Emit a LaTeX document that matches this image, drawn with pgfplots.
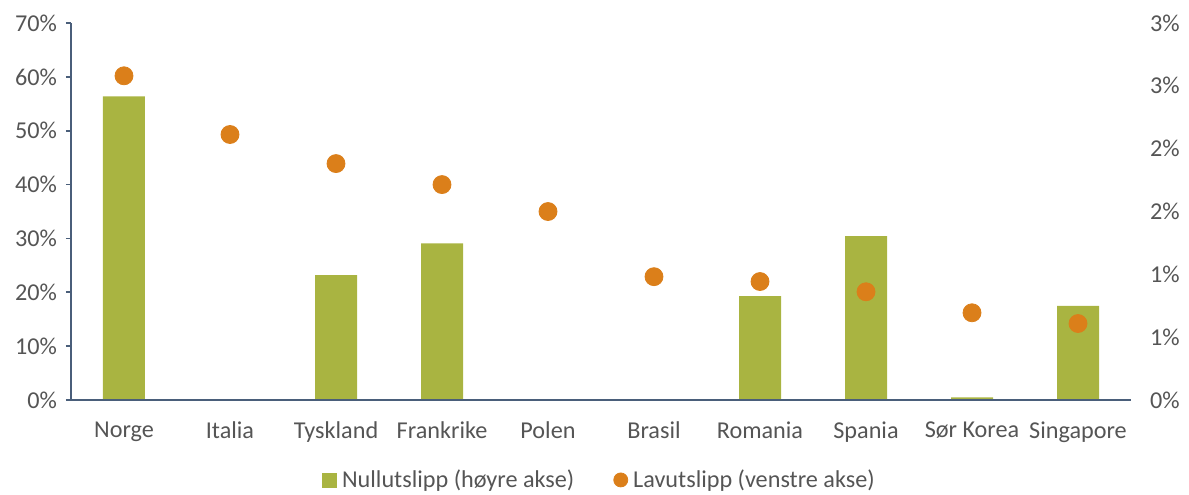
\documentclass[border=0pt]{standalone}
\usepackage{pgfplots}
\pgfplotsset{compat=1.18}
\usepackage{fontspec}
\setmainfont{Carlito}
\definecolor{barg}{HTML}{A9B441}
\definecolor{dotor}{HTML}{DB7F1A}
\definecolor{txt}{HTML}{555555}
\definecolor{axl}{HTML}{4A5E7A}
\newcommand{\fs}{\fontsize{12.1}{14.5}\selectfont}
\begin{document}
\begin{tikzpicture}
\path[use as bounding box] (-35.5pt,-47pt) rectangle (559pt,200pt);
\begin{axis}[
  at={(0,0)}, anchor=south west, scale only axis,
  width=530pt, height=188.5pt,
  xmin=-0.5, xmax=9.5, ymin=0, ymax=3,
  axis x line=none,
  axis y line*=right,
  y axis line style={draw=none},
  ytick={0,0.5,1,1.5,2,2.5,3},
  yticklabels={0\%,1\%,1\%,2\%,2\%,3\%,3\%},
  ytick style={draw=none},
  yticklabel style={anchor=west, xshift=6pt, font=\fs, text=txt},
]
\addplot[ybar, bar width=21pt, fill=barg, draw=none] coordinates {
 (0,2.416) (1,0) (2,0.994) (3,1.247) (4,0) (5,0) (6,0.827) (7,1.305) (8,0.021) (9,0.750)
};
\end{axis}
\begin{axis}[
  at={(0,0)}, anchor=south west, scale only axis,
  width=530pt, height=188.5pt,
  xmin=-0.5, xmax=9.5, ymin=0, ymax=70,
  axis y line*=left, axis x line*=bottom,
  axis line style={draw=axl, line width=0.8pt},
  xtick={0,...,9},
  xticklabels={Norge,Italia,Tyskland,Frankrike,Polen,Brasil,Romania,Spania,Sør Korea,Singapore},
  xtick style={draw=none},
  xticklabel style={font=\fs, text=txt, yshift=-5pt},
  ytick={0,10,...,70},
  yticklabels={0\%,10\%,20\%,30\%,40\%,50\%,60\%,70\%},
  ytick style={draw=axl, line width=0.8pt},
  tick align=outside, major tick length=2.5pt,
  yticklabel style={font=\fs, text=txt, xshift=-1pt},
  legend style={at={(0.5,-0.212)}, anchor=center, draw=none, fill=none,
    font=\fs, text=txt, column sep=0pt,
    nodes={inner sep=2.5pt},
    /tikz/every even column/.append style={column sep=17pt}},
  legend columns=2,
]
\addlegendimage{area legend, legend image code/.code={\fill[barg] (0pt,-3.5pt) rectangle (7pt,3.5pt);}}
\addlegendentry{Nullutslipp (høyre akse)}
\addplot[only marks, mark=*, mark size=4.5pt, color=dotor, mark options={draw=dotor, fill=dotor},
  legend image code/.code={\fill[dotor] (3.5pt,0pt) circle (3.5pt);}] coordinates {
 (0,60.2) (1,49.3) (2,43.9) (3,40.0) (4,35.0) (5,22.9) (6,22.0) (7,20.1) (8,16.2) (9,14.2)
};
\addlegendentry{Lavutslipp (venstre akse)}
\end{axis}
\end{tikzpicture}
\end{document}
